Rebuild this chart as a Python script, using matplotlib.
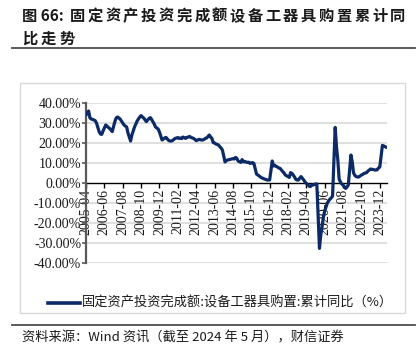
import matplotlib
matplotlib.use("Agg")
import matplotlib.pyplot as plt
from matplotlib.patches import Rectangle
from matplotlib.lines import Line2D
from matplotlib.ticker import FuncFormatter

# ---------------- data ----------------
start_year, start_month = 2005, 4
# monthly cumulative YoY (%) from 2005-04 to 2024-05; None = January (not published)
values = [
    # 2005 Apr-Dec
    34.0, 35.0, 36.0, 32.5, 32.0, 31.8, 31.5, 31.2, 30.0,
    # 2006
    None, 25.7, 24.5, 24.3, 26.0, 27.5, 29.0, 28.5, 27.8, 27.3, 26.5, 25.7,
    # 2007
    None, 30.7, 32.5, 33.0, 32.5, 32.0, 31.0, 30.0, 29.0, 28.5, 28.0, 25.0,
    # 2008
    None, 21.0, 24.0, 26.0, 28.0, 29.5, 31.0, 32.0, 33.0, 33.7, 33.0, 32.5,
    # 2009
    None, 30.7, 31.5, 32.2, 32.7, 31.8, 30.7, 29.5, 28.0, 27.5, 27.0, 25.5,
    # 2010
    None, 21.5, 22.0, 22.5, 22.8, 22.0, 21.3, 21.0, 21.0, 21.2, 21.8, 22.3,
    # 2011
    None, 22.7, 22.3, 22.5, 22.2, 23.0, 22.6, 22.3, 22.8, 23.0, 23.3, 22.8,
    # 2012
    None, 22.3, 21.8, 21.2, 21.4, 21.8, 21.7, 21.5, 21.5, 21.8, 22.3, 22.5,
    # 2013
    None, 24.0, 23.0, 22.3, 20.2, 20.0, 19.5, 19.3, 19.0, 18.2, 17.5, 16.5,
    # 2014
    None, 10.5, 11.2, 11.5, 11.7, 11.8, 12.0, 12.2, 12.0, 12.8, 12.3, 11.0,
    # 2015
    None, 10.3, 11.7, 10.5, 10.8, 10.5, 10.3, 10.4, 9.8, 10.0, 10.2, 9.8,
    # 2016
    None, 4.5, 4.0, 3.5, 3.0, 2.6, 2.3, 2.0, 1.8, 1.5, 1.5, 1.5,
    # 2017
    None, 11.0, 8.5, 8.8, 8.3, 8.0, 7.5, 7.3, 6.5, 5.7, 5.0, 4.0,
    # 2018
    None, 3.2, 2.8, 5.2, 4.8, 4.0, 3.0, 1.8, 1.5, 1.5, 2.5, 3.2,
    # 2019
    None, 1.5, 0.5, -0.2, -0.8, -1.5, -1.8, -1.2, -1.0, -0.8, -0.5, -0.5,
    # 2020
    None, -32.7, -26.0, -21.8, -17.0, -14.0, -12.0, -10.0, -9.0, -8.0, -7.5, -6.5,
    # 2021
    None, 27.8, 18.0, 11.5, 2.0, 0.5, -0.5, -1.0, -2.0, -2.7, -2.0, -1.0,
    # 2022
    None, 14.0, 10.5, 5.0, 3.8, 3.2, 3.0, 3.0, 3.5, 4.0, 4.3, 4.8,
    # 2023
    None, 5.2, 6.0, 6.5, 7.0, 6.8, 6.8, 6.5, 6.5, 6.6, 7.5, 8.0,
    # 2024 Jan-May
    None, 18.8, 18.5, 18.2, 17.8,
]
tick_labels = ["2005-04", "2006-06", "2007-08", "2008-10", "2009-12", "2011-02",
               "2012-04", "2013-06", "2014-08", "2015-10", "2016-12", "2018-02",
               "2019-04", "2020-06", "2021-08", "2022-10", "2023-12"]
y_ticks = [-40, -30, -20, -10, 0, 10, 20, 30, 40]
series_name = "固定资产投资完成额:设备工器具购置:累计同比（%）"
title_prefix = "图 66:"
title_line1 = "固定资产投资完成额设备工器具购置累计同"
title_line2 = "比走势"
source_text = "资料来源：Wind 资讯（截至 2024 年 5 月），财信证券"

# ---------------- figure ----------------
W, H = 418, 348
fig = plt.figure(figsize=(W / 100, H / 100), dpi=100)
fig.patch.set_facecolor("white")

def fx(px):
    return px / W

def fy(py):
    return 1 - py / H

cjk = ["Noto Sans CJK SC", "DejaVu Sans"]
serif = ["Liberation Serif", "DejaVu Serif"]
navy = "#0c2a66"
tcol = "#1a1a1a"

def spaced(x_left, y, text, step, size):
    # letter-spaced CJK title, one glyph per step
    for i, ch in enumerate(text):
        fig.text(fx(x_left + i * step), fy(y), ch, family=cjk, fontsize=size,
                 fontweight="bold", color=tcol, ha="left", va="center")

# titles
fig.text(fx(22), fy(16), title_prefix, family=cjk, fontsize=11, fontweight="bold",
         color=tcol, ha="left", va="center")
spaced(69.5, 16, title_line1, 17.8, 11)
spaced(22, 39, title_line2, 18.7, 11)
fig.add_artist(Line2D([fx(12), fx(415)], [fy(48.3), fy(48.3)], color="#4d4d4d", lw=1.3))

# chart box
fig.add_artist(Rectangle((fx(19.5), fy(313.3)), fx(405) - fx(19.5), fy(83.3) - fy(313.3),
                         fill=False, edgecolor="#d9d9d9", lw=1.0))

# axes
ax = fig.add_axes([fx(86), fy(263), fx(387) - fx(86), fy(103) - fy(263)])
ax.set_facecolor("none")

xs, ys = [], []
for i, v in enumerate(values):
    if v is not None:
        xs.append(i)
        ys.append(v)
ax.plot(xs, ys, color=navy, lw=2.3, solid_joinstyle="round", solid_capstyle="round", zorder=3)

ax.set_xlim(0, 229.5)
ax.set_ylim(-40, 40)

ax.set_yticks(y_ticks)
ax.yaxis.set_major_formatter(FuncFormatter(lambda v, p: f"{v:.2f}%"))
for v in y_ticks:
    if v != 0:
        ax.axhline(v, color="#d9d9d9", lw=1.2, zorder=1)

# month index for each tick label
tick_pos = []
for lab in tick_labels:
    yy, mm = lab.split("-")
    tick_pos.append((int(yy) - start_year) * 12 + int(mm) - start_month)
ax.set_xticks(tick_pos, tick_labels)

for s in ["top", "right"]:
    ax.spines[s].set_visible(False)
ax.spines["left"].set_color("#595959")
ax.spines["left"].set_linewidth(1.6)
ax.spines["bottom"].set_position(("data", 0))
ax.spines["bottom"].set_color("#000000")
ax.spines["bottom"].set_linewidth(1.0)
ax.spines["bottom"].set_zorder(2)

ax.tick_params(axis="y", direction="out", length=3, width=1.2, color="#595959",
               pad=0.5, labelsize=10, labelcolor=tcol)
ax.tick_params(axis="x", direction="out", length=3.5, width=1.0, color="#000000",
               pad=0.5, labelsize=10, labelcolor=tcol, labelrotation=90)
for lab in ax.get_yticklabels() + ax.get_xticklabels():
    lab.set_family(serif)
for lab in ax.get_xticklabels():
    lab.set_rotation(90)
    lab.set_ha("center")
    lab.set_va("top")

# legend
fig.add_artist(Line2D([fx(48), fx(80)], [fy(303.3), fy(303.3)], color=navy, lw=2.6))
fig.text(fx(82), fy(303.3), series_name, family=cjk, fontsize=9.5, color=tcol,
         ha="left", va="center")

# bottom rule and source
fig.add_artist(Line2D([fx(12), fx(415)], [fy(325), fy(325)], color="#4d4d4d", lw=1.3))
fig.text(fx(22), fy(337.5), source_text, family=cjk, fontsize=9.5, color=tcol,
         ha="left", va="center")

fig.savefig("out.png", dpi=100, facecolor="white")
